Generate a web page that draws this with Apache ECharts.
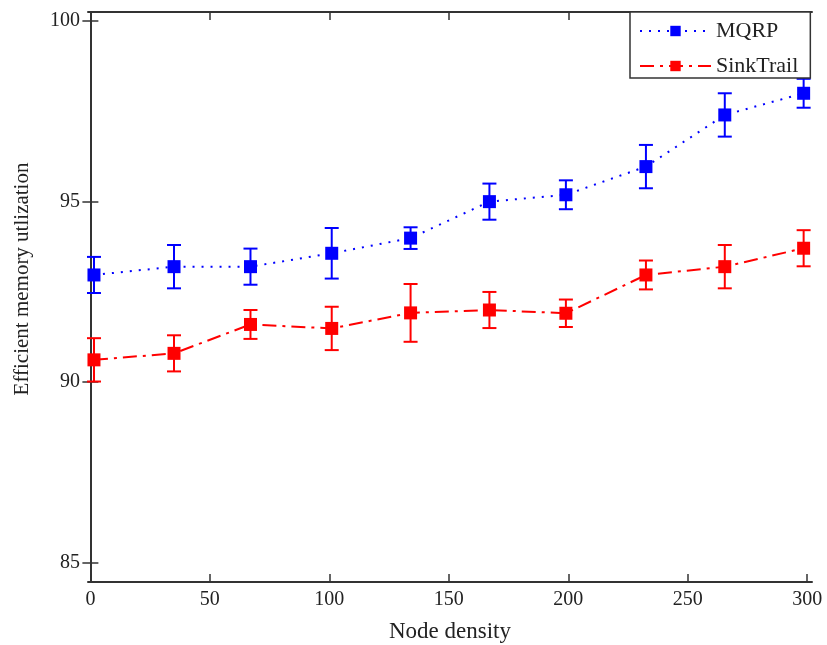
<!DOCTYPE html>
<html><head><meta charset="utf-8">
<script src="https://cdn.jsdelivr.net/npm/echarts@6/dist/echarts.min.js"></script>
<style>html,body{margin:0;padding:0;background:#fff}#c{width:827px;height:645px}</style>
</head><body><div id="c"></div>
<script>
const nodeDensity = [1.5, 35, 67, 101, 134, 167, 199, 232.5, 265.5, 298.5];
const mqrpValues = [92.97, 93.2, 93.2, 93.57, 93.99, 95.0, 95.19, 95.97, 97.4, 98.0];
const mqrpErrors = [0.5, 0.6, 0.5, 0.7, 0.3, 0.5, 0.4, 0.6, 0.6, 0.4];
const sinkValues = [90.62, 90.8, 91.6, 91.49, 91.92, 92.0, 91.91, 92.97, 93.2, 93.71];
const sinkErrors = [0.6, 0.5, 0.4, 0.6, 0.8, 0.5, 0.38, 0.4, 0.6, 0.5];
const xTicks = [0, 50, 100, 150, 200, 250, 300];
const yTicks = [85, 90, 95, 100];
const seriesNames = ['MQRP', 'SinkTrail'];
const xName = 'Node density';
const yName = 'Efficient memory utlization';

const FONT = 'Liberation Serif';
const AX = '#333';
const TXT = '#222';

function errSeries(vals, errs, color) {
  return {
    type: 'custom', silent: true, z: 3,
    data: nodeDensity.map((x, i) => [x, vals[i] - errs[i], vals[i] + errs[i]]),
    encode: { x: 0, y: [1, 2] },
    renderItem: function (params, api) {
      const lo = api.coord([api.value(0), api.value(1)]);
      const hi = api.coord([api.value(0), api.value(2)]);
      const w = 7;
      const st = { stroke: color, lineWidth: 2 };
      return { type: 'group', children: [
        { type: 'line', shape: { x1: lo[0], y1: lo[1], x2: hi[0], y2: hi[1] }, style: st },
        { type: 'line', shape: { x1: lo[0] - w, y1: lo[1], x2: lo[0] + w, y2: lo[1] }, style: st },
        { type: 'line', shape: { x1: hi[0] - w, y1: hi[1], x2: hi[0] + w, y2: hi[1] }, style: st }
      ]};
    }
  };
}

const xBase = {
  type: 'value', min: -1, max: 302,
  axisLine: { show: true, lineStyle: { color: AX, width: 2 } },
  axisTick: { show: true, inside: true, length: 8, customValues: xTicks, lineStyle: { color: AX, width: 1.5 } },
  splitLine: { show: false }
};
const yBase = {
  type: 'value', min: 84.47, max: 100.25,
  axisLine: { show: true, lineStyle: { color: AX, width: 2 } },
  axisTick: { show: true, inside: true, length: 8, customValues: yTicks, lineStyle: { color: AX, width: 1.5 } },
  splitLine: { show: false }
};

const option = {
  backgroundColor: '#fff',
  animation: false,
  grid: { left: 88, right: 15, top: 12, bottom: 63, containLabel: false, outerBoundsMode: 'none' },
  xAxis: [
    Object.assign({}, xBase, {
      position: 'bottom',
      name: xName, nameLocation: 'middle', nameGap: 38,
      nameTextStyle: { fontFamily: FONT, fontSize: 23, color: TXT },
      axisLabel: { customValues: xTicks, margin: 8, fontFamily: FONT, fontSize: 20, color: TXT }
    }),
    Object.assign({}, xBase, { position: 'top', axisLabel: { show: false } })
  ],
  yAxis: [
    Object.assign({}, yBase, {
      position: 'left',
      axisLabel: { customValues: yTicks, margin: 8, fontFamily: FONT, fontSize: 20, color: TXT }
    }),
    Object.assign({}, yBase, { position: 'right', axisLabel: { show: false } })
  ],
  graphic: [{
    type: 'text', x: 22, y: 279, rotation: Math.PI / 2,
    style: { text: yName, fontFamily: FONT, fontSize: 21, fill: TXT, align: 'center', verticalAlign: 'middle' }
  }],
  legend: {
    data: seriesNames,
    left: 630, top: 12,
    orient: 'vertical',
    itemWidth: 71, itemHeight: 13, itemGap: 13,
    padding: [8, 12, 1, 9],
    backgroundColor: '#fff',
    borderColor: '#333', borderWidth: 1.5,
    textStyle: { fontFamily: FONT, fontSize: 22, lineHeight: 22, color: TXT }
  },
  series: [
    errSeries(mqrpValues, mqrpErrors, '#0000ff'),
    errSeries(sinkValues, sinkErrors, '#ff0000'),
    {
      name: seriesNames[0], type: 'line', z: 4,
      data: nodeDensity.map((x, i) => [x, mqrpValues[i]]),
      symbol: 'rect', symbolSize: 13,
      itemStyle: { color: '#0000ff' },
      lineStyle: { color: '#0000ff', width: 2, type: [2, 7] }
    },
    {
      name: seriesNames[1], type: 'line', z: 4,
      data: nodeDensity.map((x, i) => [x, sinkValues[i]]),
      symbol: 'rect', symbolSize: 13,
      itemStyle: { color: '#ff0000' },
      lineStyle: { color: '#ff0000', width: 2, type: [14, 6, 3, 6] }
    }
  ]
};
echarts.init(document.getElementById('c'), null, { renderer: 'canvas' }).setOption(option);
</script></body></html>
